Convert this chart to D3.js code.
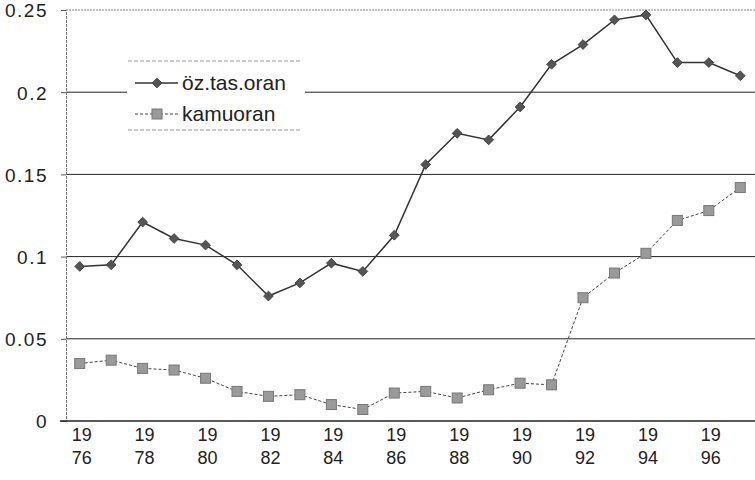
<!DOCTYPE html>
<html>
<head>
<meta charset="utf-8">
<script src="https://cdn.jsdelivr.net/npm/d3@7"></script>
<style>
  body { margin: 0; background: #fff; }
  svg { display: block; font-family: "Liberation Sans", Arial, sans-serif; }
</style>
</head>
<body>
<div id="chart"></div>
<script>
// data
var years = [1976, 1977, 1978, 1979, 1980, 1981, 1982, 1983, 1984, 1985, 1986,
             1987, 1988, 1989, 1990, 1991, 1992, 1993, 1994, 1995, 1996, 1997];
var ozTasOran = [0.094, 0.095, 0.121, 0.111, 0.107, 0.095, 0.076, 0.084, 0.096, 0.091, 0.113,
                 0.156, 0.175, 0.171, 0.191, 0.217, 0.229, 0.244, 0.247, 0.218, 0.218, 0.210];
var kamuoran = [0.035, 0.037, 0.032, 0.031, 0.026, 0.018, 0.015, 0.016, 0.010, 0.007, 0.017,
                0.018, 0.014, 0.019, 0.023, 0.022, 0.075, 0.090, 0.102, 0.122, 0.128, 0.142];
var yTicks = [0, 0.05, 0.1, 0.15, 0.2, 0.25];
var yTickLabels = ["0", "0.05", "0.1", "0.15", "0.2", "0.25"];
var seriesNames = ["öz.tas.oran", "kamuoran"];

var width = 755,
    height = 480;

var svg = d3.select('#chart')
  .append('svg')
  .attr('width', width)
  .attr('height', height);

var x = d3.scalePoint()
  .domain(years)
  .range([64, 756])
  .padding(0.5);

var y = d3.scaleLinear()
  .domain([0, 0.25])
  .range([421, 10]);

var axisX = 66;

// gridlines (top one is lighter, like the plot frame)
svg.selectAll('.grid')
  .data(yTicks.filter(function(d) { return d > 0; }))
  .enter()
  .append('line')
  .attr('class', 'grid')
  .attr('x1', axisX)
  .attr('x2', width)
  .attr('y1', function(d) { return y(d); })
  .attr('y2', function(d) { return y(d); })
  .attr('stroke', function(d) { return d === 0.25 ? '#888' : '#222'; })
  .attr('stroke-dasharray', function(d) { return d === 0.25 ? '2,1' : null; })
  .attr('stroke-width', 1);

// y axis
var yAxis = d3.axisLeft(y)
  .tickValues(yTicks)
  .tickSize(5)
  .tickPadding(13)
  .tickFormat(function(d, i) { return yTickLabels[i]; });

var gy = svg.append('g')
  .attr('transform', 'translate(' + axisX + ',0)')
  .call(yAxis);

gy.select('.domain')
  .attr('stroke', '#777')
  .attr('stroke-dasharray', '3,1');
gy.selectAll('.tick line').attr('stroke', '#555');
gy.selectAll('.tick text')
  .attr('fill', '#222')
  .style('font-size', '19px')
  .style('letter-spacing', '1.5px')
  .attr('dy', '0.36em');

// x axis line
svg.append('line')
  .attr('x1', 60)
  .attr('x2', width)
  .attr('y1', y(0))
  .attr('y2', y(0))
  .attr('stroke', '#222')
  .attr('stroke-width', 1.5);

// x labels, every second year split in two lines
var xLabels = svg.selectAll('.xlab')
  .data(years.filter(function(d, i) { return i % 2 === 0; }))
  .enter()
  .append('text')
  .attr('class', 'xlab')
  .attr('text-anchor', 'middle')
  .attr('fill', '#222')
  .style('font-size', '18px');

xLabels.append('tspan')
  .attr('x', function(d) { return x(d) + 2; })
  .attr('y', 441)
  .text(function(d) { return String(d).slice(0, 2); });

xLabels.append('tspan')
  .attr('x', function(d) { return x(d) + 2; })
  .attr('y', 464)
  .text(function(d) { return String(d).slice(2); });

// lines
var line = d3.line()
  .x(function(d, i) { return x(years[i]); })
  .y(function(d) { return y(d); });

svg.append('path')
  .datum(kamuoran)
  .attr('fill', 'none')
  .attr('stroke', '#444')
  .attr('stroke-width', 1)
  .attr('stroke-dasharray', '3,2')
  .attr('d', line);

svg.append('path')
  .datum(ozTasOran)
  .attr('fill', 'none')
  .attr('stroke', '#333')
  .attr('stroke-width', 1.5)
  .attr('d', line);

// markers
var diamond = d3.symbol().type(d3.symbolDiamond2).size(60);

svg.selectAll('.sq')
  .data(kamuoran)
  .enter()
  .append('rect')
  .attr('class', 'sq')
  .attr('x', function(d, i) { return x(years[i]) - 5; })
  .attr('y', function(d) { return y(d) - 5; })
  .attr('width', 10)
  .attr('height', 10)
  .attr('fill', '#9a9a9a')
  .attr('stroke', '#777')
  .attr('stroke-width', 1);

svg.selectAll('.dia')
  .data(ozTasOran)
  .enter()
  .append('path')
  .attr('class', 'dia')
  .attr('transform', function(d, i) { return 'translate(' + x(years[i]) + ',' + y(d) + ')'; })
  .attr('d', diamond)
  .attr('fill', '#555')
  .attr('stroke', '#444');

// legend
var legend = svg.append('g');

legend.append('rect')
  .attr('x', 127)
  .attr('y', 61)
  .attr('width', 178)
  .attr('height', 69)
  .attr('fill', '#fff');

[61, 130].forEach(function(ly) {
  legend.append('line')
    .attr('x1', 128)
    .attr('x2', 302)
    .attr('y1', ly)
    .attr('y2', ly)
    .attr('stroke', '#999')
    .attr('stroke-dasharray', '4,2');
});

legend.append('line')
  .attr('x1', 135).attr('x2', 178)
  .attr('y1', 83).attr('y2', 83)
  .attr('stroke', '#333')
  .attr('stroke-width', 1.5);
legend.append('path')
  .attr('transform', 'translate(157,83)')
  .attr('d', diamond)
  .attr('fill', '#555')
  .attr('stroke', '#444');

legend.append('line')
  .attr('x1', 135).attr('x2', 178)
  .attr('y1', 114).attr('y2', 114)
  .attr('stroke', '#444')
  .attr('stroke-dasharray', '3,2');
legend.append('rect')
  .attr('x', 152).attr('y', 109)
  .attr('width', 10).attr('height', 10)
  .attr('fill', '#9a9a9a')
  .attr('stroke', '#777');

legend.selectAll('.ltext')
  .data(seriesNames)
  .enter()
  .append('text')
  .attr('class', 'ltext')
  .attr('x', 182)
  .attr('y', function(d, i) { return 83 + i * 31; })
  .attr('dy', '0.35em')
  .attr('fill', '#222')
  .style('font-size', '21px')
  .text(function(d) { return d; });
</script>
</body>
</html>
